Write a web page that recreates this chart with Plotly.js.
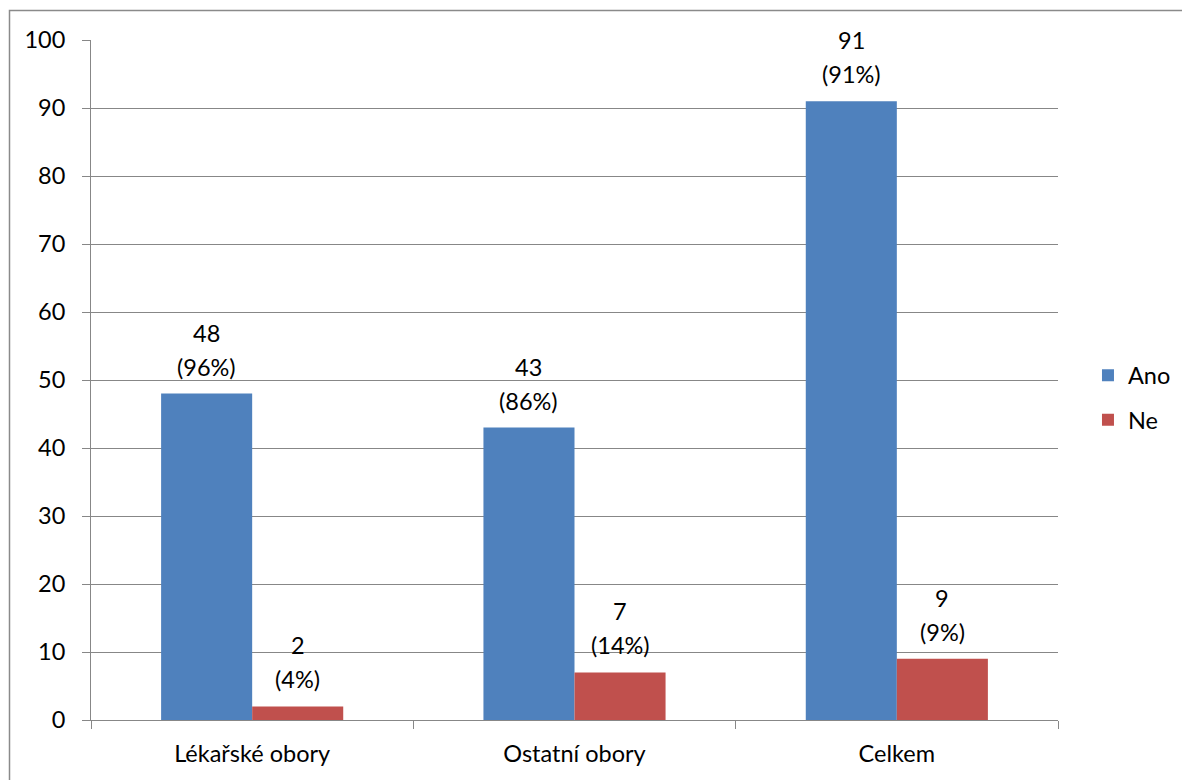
<!DOCTYPE html>
<html>
<head>
<meta charset="utf-8">
<script src="https://cdn.plot.ly/plotly-3.0.1.min.js"></script>
<style>
  html, body { margin: 0; padding: 0; background: #fff; }
  #chart { width: 1182px; height: 780px; }
</style>
</head>
<body>
<div id="chart"></div>
<script>
// Categories and series
const categories = ["Lékařské obory", "Ostatní obory", "Celkem"];
const seriesNames = ["Ano", "Ne"];
const anoValues = [48, 43, 91];
const neValues = [2, 7, 9];
const anoPercent = ["96%", "86%", "91%"];
const nePercent = ["4%", "14%", "9%"];
const yTicks = [0, 10, 20, 30, 40, 50, 60, 70, 80, 90, 100];

const FONT = "Lato, 'Open Sans', sans-serif";
const FSIZE = 23.5;
const GRID = "#878787";
const colors = ["#4F81BD", "#C0504D"];

const traces = [
  { name: seriesNames[0], x: categories, y: anoValues, type: "bar",
    marker: { color: colors[0] }, legendgroup: "a", hoverinfo: "skip" },
  { name: seriesNames[1], x: categories, y: neValues, type: "bar",
    marker: { color: colors[1] }, legendgroup: "b", hoverinfo: "skip" }
];

// Two-line value labels above each bar: count, then share in brackets
const BAR_GAP = 0.435;
const barW = (1 - BAR_GAP) / 2;
const annotations = [];
const groups = [
  { vals: anoValues, pct: anoPercent, offset: 0 },
  { vals: neValues, pct: nePercent, offset: 1 }
];
groups.forEach(g => {
  g.vals.forEach((v, i) => {
    const xPos = i - barW + g.offset * barW + barW / 2;
    annotations.push({ x: xPos, y: v, xref: "x", yref: "y", text: String(v),
      showarrow: false, yanchor: "middle", yshift: 61,
      font: { family: FONT, size: FSIZE, color: "#000" } });
    annotations.push({ x: xPos, y: v, xref: "x", yref: "y", text: "(" + g.pct[i] + ")",
      showarrow: false, yanchor: "middle", yshift: 27,
      font: { family: FONT, size: FSIZE, color: "#000" } });
  });
});

const layout = {
  width: 1182, height: 780,
  margin: { l: 91, r: 124, t: 40, b: 60, autoexpand: false },
  paper_bgcolor: "#fff", plot_bgcolor: "#fff",
  font: { family: FONT, size: FSIZE, color: "#000" },
  barmode: "group", bargap: BAR_GAP, bargroupgap: 0,
  showlegend: true,
  legend: { x: 1.031, y: (720 - 398) / 680, xanchor: "left", yanchor: "middle",
            traceorder: "grouped", tracegroupgap: 11,
            font: { family: FONT, size: FSIZE, color: "#000" } },
  xaxis: {
    type: "category", tickson: "boundaries", ticks: "outside", ticklen: 8,
    tickcolor: GRID, showline: true, linecolor: GRID, linewidth: 1,
    showgrid: false, ticklabelstandoff: 13, fixedrange: true,
    tickfont: { family: FONT, size: FSIZE, color: "#000" }
  },
  yaxis: {
    range: [0, 100], tickvals: yTicks, ticks: "outside", ticklen: 8,
    tickcolor: GRID, showline: true, linecolor: GRID, linewidth: 1,
    showgrid: true, gridcolor: GRID, gridwidth: 1, zeroline: false,
    ticklabelstandoff: 12, fixedrange: true,
    tickfont: { family: FONT, size: FSIZE, color: "#000" }
  },
  annotations: annotations,
  shapes: [
    { type: "rect", xref: "paper", yref: "paper", layer: "below",
      x0: (9.5 - 91) / 967, x1: 1.5, y0: -0.5, y1: 1 + (40 - 10.5) / 680,
      line: { color: "#8a8a8a", width: 1.5 }, fillcolor: "rgba(0,0,0,0)" }
  ]
};

Plotly.newPlot("chart", traces, layout, { displayModeBar: false, staticPlot: true });
</script>
</body>
</html>
